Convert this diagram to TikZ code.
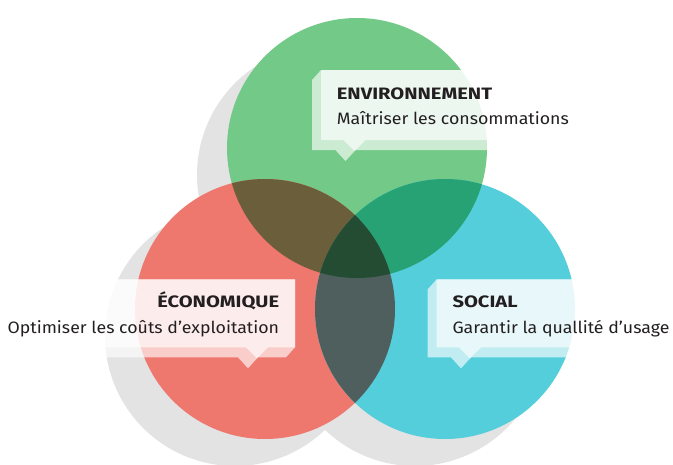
\documentclass[tikz,border=0pt]{standalone}
\usepackage{fontspec}
\setmainfont{Fira Sans}
\newfontfamily\textefont{Fira Sans}[FakeStretch=1.075]
\newfontfamily\titrefont{Fira Sans}[FakeStretch=1.22]
\usepackage{xcolor}
\definecolor{vert}{HTML}{73C987}
\definecolor{rouge}{HTML}{EE776E}
\definecolor{bleu}{HTML}{55CEDC}
\definecolor{gris}{HTML}{E3E3E3}
\definecolor{rougevert}{HTML}{6B5E3A}
\definecolor{vertbleu}{HTML}{26A274}
\definecolor{rougebleu}{HTML}{4E5F5E}
\definecolor{centre}{HTML}{244C32}
\definecolor{encre}{HTML}{231F20}
\newcommand{\ombre}[2] {
    \fill[gris] ({#1-30},{#2+27}) circle (130pt);
}
\newcommand{\inter}[3] {
    \begin{scope}
        \clip (#1) circle (130pt);
        \fill[#3] (#2) circle (130pt);
    \end{scope}
}
% bulle : x1, y1, x2, y2, pointe
\newcommand{\bulle}[5] {
    \fill[white,opacity=.64]
        (#1,#2) -- (#3,#2) -- (#3,#4) -- ({#3-9},{#4+10})
        -- ({#1-9},{#4+10}) -- ({#1-9},{#2+10}) -- cycle
        ({#5-20},{#4+9}) -- ({#5+2},{#4+9}) -- ({#5-9},{#4+21}) -- cycle;
    \fill[white,opacity=.64]
        (#1,#2) -- (#3,#2) -- (#3,#4) -- ({#5+11},#4)
        -- (#5,{#4+11}) -- ({#5-11},#4) -- (#1,#4) -- cycle;
}
\tikzset{
    titre/.style={font=\titrefont\fontsize{16.5}{18}\selectfont\bfseries,text=encre,inner sep=0},
    texte/.style={font=\textefont\fontsize{16.5}{18}\selectfont,text=encre,inner sep=0},
}
\begin{document}
\begin{tikzpicture}[x=1pt,y=-1pt]
    \useasboundingbox (0,0) rectangle (673,464);
    \coordinate (V) at (357,148);
    \coordinate (R) at (265,309);
    \coordinate (B) at (445,309);
    % ombres
    \ombre{357}{148};
    \ombre{265}{309};
    \ombre{445}{309};
    % cercles
    \fill[vert] (V) circle (130pt);
    \fill[rouge] (R) circle (130pt);
    \fill[bleu] (B) circle (130pt);
    \inter{R}{V}{rougevert};
    \inter{V}{B}{vertbleu};
    \inter{R}{B}{rougebleu};
    \begin{scope}
        \clip (R) circle (130pt);
        \clip (B) circle (130pt);
        \fill[centre] (V) circle (130pt);
    \end{scope}
    % bulles
    \bulle{321}{70}{600}{140}{354.5};
    \bulle{-5}{279.3}{295}{347.3}{257};
    \bulle{436.7}{279.3}{690}{347.3}{470};
    \node[titre,anchor=base west] (envtitre) at (336.7,99) {ENVIRONNEMENT};
    \node[texte,anchor=base west] (envtexte) at (336.7,124.5) {Maîtriser les consommations};
    \node[titre,anchor=base east] (ecotitre) at (279.3,307.7) {ÉCONOMIQUE};
    \node[texte,anchor=base east] (ecotexte) at (279.3,333) {Optimiser les coûts d’exploitation};
    \node[titre,anchor=base west] (soctitre) at (452.3,307.3) {SOCIAL};
    \node[texte,anchor=base west] (soctexte) at (452.3,333) {Garantir la quallité d’usage};
\end{tikzpicture}
\end{document}
